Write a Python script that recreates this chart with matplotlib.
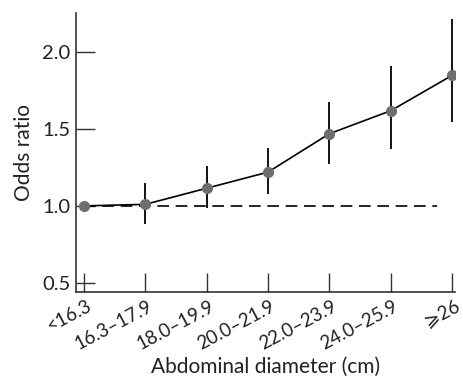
import numpy as np
import matplotlib.pyplot as plt
from matplotlib.transforms import ScaledTranslation

categories = ['<16.3', '16.3–17.9', '18.0–19.9', '20.0–21.9', '22.0–23.9', '24.0–25.9', '⩾26']
odds = [1.0, 1.01, 1.115, 1.22, 1.47, 1.62, 1.85]
lower = [1.0, 0.885, 0.985, 1.075, 1.275, 1.37, 1.545]
upper = [1.0, 1.15, 1.26, 1.38, 1.68, 1.91, 2.215]
yticks = [0.5, 1.0, 1.5, 2.0]

plt.rcParams['font.family'] = ['Lato', 'DejaVu Sans']

x = np.arange(len(categories))
odds = np.array(odds)
err = [odds - np.array(lower), np.array(upper) - odds]

fig = plt.figure(figsize=(4.63, 3.81), dpi=100)
ax = fig.add_axes([0.164, 0.234, 0.819, 0.732])

ax.plot([0, 5.76], [1.0, 1.0], color='black', lw=1.2, dashes=(7, 4))
ax.errorbar(x, odds, yerr=err, fmt='none', ecolor='black', elinewidth=1.3, capsize=0)
ax.plot(x, odds, color='black', lw=1.2, zorder=3)
ax.plot(x, odds, 'o', color='#6e6e6e', ms=7, zorder=4)

ax.set_xlim(-0.13, 6.05)
ax.set_ylim(0.44, 2.257)
ax.set_yticks(yticks)
ax.set_yticklabels([f'{v:.1f}' for v in yticks], fontsize=14.5, color='#222222')
ax.set_xticks(x)
ax.set_xticklabels([])
# rotated category labels, nudged right/down like the original
shift = ScaledTranslation(6 / 100, -13 / 100, fig.dpi_scale_trans)
for xi, cat in zip(x, categories):
    ax.text(xi, 0, cat, transform=ax.get_xaxis_transform() + shift, rotation=28,
            ha='right', va='center', rotation_mode='anchor', fontsize=13.5, color='#222222')
ax.tick_params(axis='both', direction='in', length=14, width=1.0, color='#333333')
ax.tick_params(axis='y', pad=4)

for s in ['top', 'right']:
    ax.spines[s].set_visible(False)
for s in ['left', 'bottom']:
    ax.spines[s].set_linewidth(1.2)
    ax.spines[s].set_color('#333333')

ax.set_ylabel('Odds ratio', fontsize=15, color='#222222', labelpad=6)
fig.text((76 + 455) / 2 / 463, 0.01, 'Abdominal diameter (cm)', ha='center',
         va='bottom', fontsize=15, color='#222222')

fig.savefig('out.png', dpi=100)
